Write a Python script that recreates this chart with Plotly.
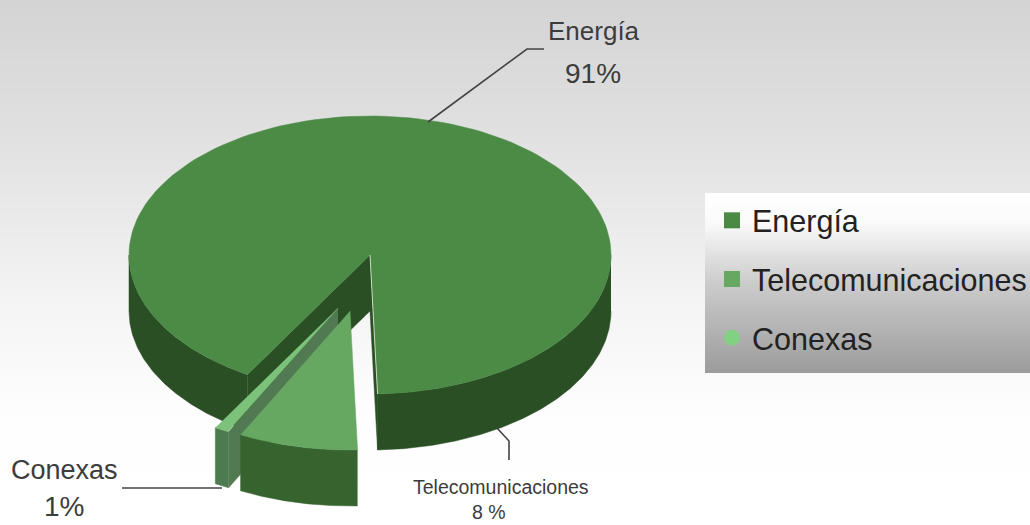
import numpy as np
import plotly.graph_objects as go

# ---- data ----
categories = ["Energía", "Telecomunicaciones", "Conexas"]
shares = [91, 8, 1]
percent_labels = ["91%", "8 %", "1%"]

# ---- drawing settings (pixel-like plot space) ----
W, H = 1030, 525
CX, CY, RX, RY, DEPTH = 370, 255, 241, 139, 56
START = 120.6                         # clockwise, 0 = 3 o'clock
EXPLODE = [(0, 0), (-20, 56), (-32, 53)]
TOP = ["#4c8b46", "#66a862", "#7cc27a"]
SIDE = ["#2b4f25", "#37632f", "#4d7a4e"]
CUT = ["#2b4f25", "#37632f", "#527a52"]
LEGEND_COL = ["#4a8a44", "#66a862", "#82d082"]
SYMBOLS = ["square", "square", "circle"]

# slice angle ranges from the shares
edges = START + np.cumsum([0] + [s * 3.6 for s in shares])
spans = list(zip(edges[:-1], edges[1:]))


def arc(i, a, b, dy=0, n=160):
    t = np.radians(np.linspace(a, b, n))
    ox, oy = EXPLODE[i]
    return CX + ox + RX * np.cos(t), CY + oy + dy + RY * np.sin(t)


def apex(i, dy=0):
    return CX + EXPLODE[i][0], CY + EXPLODE[i][1] + dy


def poly(fig, xs, ys, color):
    fig.add_trace(go.Scatter(x=list(xs), y=list(ys), mode="lines", fill="toself",
                             fillcolor=color, line=dict(color=color, width=0.5),
                             hoverinfo="skip", showlegend=False))


def outer_wall(fig, i, a, b):
    x1, y1 = arc(i, a, b)
    x2, y2 = arc(i, a, b, DEPTH)
    poly(fig, np.r_[x1, x2[::-1]], np.r_[y1, y2[::-1]], SIDE[i])


def cut_face(fig, i, ang, color):
    x, y = arc(i, ang, ang, n=1)
    ax, ay = apex(i)
    ax2, ay2 = apex(i, DEPTH)
    x2, y2 = arc(i, ang, ang, DEPTH, n=1)
    poly(fig, [ax, x[0], x2[0], ax2], [ay, y[0], y2[0], ay2], color)


def top_face(fig, i):
    x, y = arc(i, *spans[i])
    ax, ay = apex(i)
    poly(fig, np.r_[ax, x], np.r_[ay, y], TOP[i])


fig = go.Figure()

# page gradient
rows = np.arange(0, H + 1, 3)
gray = np.interp(rows[:-1], [0, 130, 300, 420, 525], [212, 224, 244, 254, 255])
fig.add_trace(go.Heatmap(x=[0, W], y=rows, z=[[g] for g in gray], zmin=0, zmax=255,
                         colorscale=[[0, "#000"], [1, "#fff"]], showscale=False, hoverinfo="skip"))

# legend panel gradient
LX0, LX1, LY0, LY1 = 705, W, 193, 373
fig.add_shape(type="rect", x0=LX0 - 2, x1=LX1, y0=LY0 - 2, y1=LY1 + 2,
              fillcolor="rgba(120,120,120,0.12)", line_width=0, layer="below")
rows2 = np.arange(LY0, LY1 + 1, 2)
gray2 = np.interp(rows2[:-1], [193, 222, 280, 373], [255, 250, 205, 155])
fig.add_trace(go.Heatmap(x=[LX0, LX1], y=rows2, z=[[g] for g in gray2], zmin=0, zmax=255,
                         colorscale=[[0, "#000"], [1, "#fff"]], showscale=False, hoverinfo="skip"))

# main slice: walls, cuts, top
e0, e1 = spans[0]
outer_wall(fig, 0, 360, e1)
outer_wall(fig, 0, e0, 180)
cut_face(fig, 0, e0, CUT[0])
cut_face(fig, 0, e1 - 360, CUT[0])
top_face(fig, 0)

# conexas slice
c0, c1 = spans[2]
cut_face(fig, 2, c0, CUT[2])
outer_wall(fig, 2, c0, c1)
top_face(fig, 2)

# telecom slice
t0, t1 = spans[1]
outer_wall(fig, 1, t0, t1)
top_face(fig, 1)

# light edge along the main slice's cut
ax, ay = apex(0)
x, y = arc(0, e1, e1, n=1)
fig.add_trace(go.Scatter(x=[ax, x[0]], y=[ay, y[0]], mode="lines", hoverinfo="skip", showlegend=False,
                         line=dict(color="rgba(230,240,225,0.8)", width=1)))

# leader lines
for pts in [[(428, 122), (527, 49), (544, 49)],
            [(497, 428), (509, 441), (509, 460)],
            [(122, 488), (222, 488)]]:
    fig.add_trace(go.Scatter(x=[p[0] for p in pts], y=[p[1] for p in pts], mode="lines",
                             line=dict(color="#444444", width=1.6), hoverinfo="skip", showlegend=False))

# legend entries
for name, col, sym in zip(categories, LEGEND_COL, SYMBOLS):
    fig.add_trace(go.Scatter(x=[None], y=[None], mode="markers", name=name, legendgroup=name,
                             marker=dict(color=col, symbol=sym, size=16)))


def label(txt, px, py, size):
    fig.add_annotation(x=px, y=py, text=txt, showarrow=False, xanchor="center", yanchor="middle",
                       font=dict(size=size, color="#3c3c3c", family="Liberation Sans"),
                       align="center")


# slice labels: name line and percent line
for name, pct, nx, ny, nsize, px, py, psize in zip(
        categories, percent_labels,
        [594, 501, 64], [31, 487, 470], [26, 19.5, 27],
        [593, 489, 64], [73, 512, 506], [28, 19.5, 28]):
    label(name, nx, ny, nsize)
    label(pct, px, py, psize)

fig.update_layout(
    width=W, height=H, margin=dict(l=0, r=0, t=0, b=0, autoexpand=False),
    paper_bgcolor="white", plot_bgcolor="white",
    xaxis=dict(range=[0, W], visible=False, fixedrange=True),
    yaxis=dict(range=[H, 0], visible=False, fixedrange=True),
    font=dict(family="Liberation Sans"),
    showlegend=True,
    legend=dict(x=712 / W, xanchor="left", y=1 - 194 / H, yanchor="top",
                bgcolor="rgba(0,0,0,0)", traceorder="grouped", tracegroupgap=16,
                font=dict(size=30.5, color="#222222"), itemsizing="trace",
                itemwidth=30, entrywidth=300),
)

fig.write_html("out.html", config={"displayModeBar": False},
               post_script="document.body.style.margin='0';document.body.style.overflow='hidden';")
